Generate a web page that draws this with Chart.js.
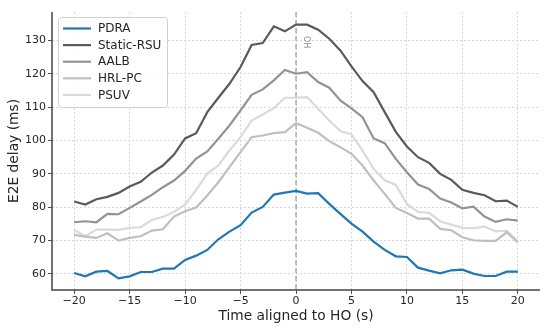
<!DOCTYPE html>
<html>
<head>
<meta charset="utf-8">
<script src="https://cdn.jsdelivr.net/npm/chart.js@4/dist/chart.umd.min.js"></script>
<style>
  html, body { margin: 0; padding: 0; background: #fff; }
  #wrap { width: 550px; height: 330px; }
</style>
</head>
<body>
<div id="wrap"><canvas id="myChart" width="550" height="330"></canvas></div>
<script>
// time aligned to handover (s)
const times = [-20,-19,-18,-17,-16,-15,-14,-13,-12,-11,-10,-9,-8,-7,-6,-5,-4,-3,-2,-1,0,1,2,3,4,5,6,7,8,9,10,11,12,13,14,15,16,17,18,19,20];

const pdra = [60.3,59.3,60.7,60.9,58.7,59.3,60.6,60.6,61.6,61.6,64.2,65.5,67.2,70.4,72.7,74.6,78.4,80.1,83.8,84.4,84.9,84.1,84.2,81.0,78.0,75.1,72.7,69.7,67.2,65.3,65.1,61.9,61.0,60.2,61.1,61.3,60.1,59.4,59.4,60.7,60.7];
const staticRsu = [81.7,80.8,82.4,83.1,84.3,86.2,87.6,90.4,92.5,95.8,100.6,102.2,108.5,112.8,117.0,122.0,128.6,129.2,134.2,132.7,134.7,134.7,133.2,130.5,127.0,122.2,117.8,114.5,108.5,102.6,98.2,95.0,93.3,90.0,88.2,85.2,84.3,83.6,81.8,82.0,80.1];
const aalb = [75.5,75.8,75.5,78.0,77.9,79.8,81.7,83.7,86.0,88.0,90.9,94.6,96.7,100.5,104.5,109.0,113.7,115.3,118.0,121.1,120.0,120.5,117.5,115.8,112.0,109.6,107.0,100.6,99.2,94.5,90.5,86.8,85.5,82.6,81.4,79.7,80.2,77.2,75.6,76.4,76.0];
const hrlPc = [71.7,71.2,70.8,72.2,70.0,70.8,71.3,73.0,73.4,77.2,78.8,79.9,83.5,87.5,92.0,96.5,101.0,101.5,102.2,102.5,105.2,103.8,102.3,99.8,98.0,96.0,92.5,88.0,84.0,79.8,78.3,76.6,76.6,73.5,73.1,71.0,70.1,69.9,69.9,72.5,69.5];
const psuv = [73.2,71.3,73.3,73.3,73.2,73.8,74.0,76.2,77.1,78.6,80.8,85.2,90.1,92.5,97.0,101.0,106.0,107.8,109.7,112.8,112.8,113.0,109.5,106.0,102.8,101.8,97.0,91.5,88.1,86.7,81.0,78.6,78.3,75.8,74.8,73.8,73.7,74.2,72.8,73.0,69.7];

const xTicks = [-20,-15,-10,-5,0,5,10,15,20];
const yTicks = [60,70,80,90,100,110,120,130];
const hoTime = 0;

const series = [
    { label: 'PDRA', values: pdra, color: '#1f77b4' },
    { label: 'Static-RSU', values: staticRsu, color: '#5a5a5a' },
    { label: 'AALB', values: aalb, color: '#939393' },
    { label: 'HRL-PC', values: hrlPc, color: '#bfbfbf' },
    { label: 'PSUV', values: psuv, color: '#dadada' },
];

const FONT = "'DejaVu Sans', sans-serif";

const data = {
    datasets: series.map(s => ({
        label: s.label,
        data: times.map((t, i) => ({ x: t, y: s.values[i] })),
        borderColor: s.color,
        backgroundColor: s.color,
        borderWidth: 2.2,
        pointRadius: 0,
        tension: 0,
    })),
};

// dashed HO marker + label
const hoLine = {
    id: 'hoLine',
    beforeDatasetsDraw(chart) {
        const { ctx, chartArea, scales } = chart;
        const x = scales.x.getPixelForValue(hoTime);
        ctx.save();
        ctx.strokeStyle = '#9a9a9a';
        ctx.lineWidth = 1.2;
        ctx.setLineDash([5, 3]);
        ctx.beginPath();
        ctx.moveTo(x, chartArea.top);
        ctx.lineTo(x, chartArea.bottom);
        ctx.stroke();
        ctx.setLineDash([]);
        ctx.translate(x + 13, chartArea.top + 30);
        ctx.rotate(-Math.PI / 2);
        ctx.fillStyle = '#888';
        ctx.font = '8px ' + FONT;
        ctx.textAlign = 'center';
        ctx.textBaseline = 'middle';
        ctx.fillText('HO', 0, 0);
        ctx.restore();
    }
};

// matplotlib-like legend inside the axes, upper left
const boxLegend = {
    id: 'boxLegend',
    afterDatasetsDraw(chart) {
        const { ctx, chartArea } = chart;
        const x0 = chartArea.left + 6, y0 = chartArea.top + 5;
        const w = 109, rowH = 16.6, h = 90;
        ctx.save();
        ctx.fillStyle = 'rgba(255,255,255,0.85)';
        ctx.strokeStyle = '#d0d0d0';
        ctx.lineWidth = 1;
        ctx.beginPath();
        ctx.roundRect(x0 + 0.5, y0 + 0.5, w, h, 3);
        ctx.fill();
        ctx.stroke();
        ctx.font = '12px ' + FONT;
        ctx.textBaseline = 'middle';
        chart.data.datasets.forEach((ds, i) => {
            const cy = y0 + 11.5 + i * rowH;
            ctx.strokeStyle = ds.borderColor;
            ctx.lineWidth = ds.borderWidth;
            ctx.beginPath();
            ctx.moveTo(x0 + 5, cy);
            ctx.lineTo(x0 + 33, cy);
            ctx.stroke();
            ctx.fillStyle = '#262626';
            ctx.fillText(ds.label, x0 + 40, cy + 0.5);
        });
        ctx.restore();
    }
};

// left / bottom spines drawn solid (border.dash is used for the dotted grid)
const spines = {
    id: 'spines',
    afterDatasetsDraw(chart) {
        const { ctx, chartArea } = chart;
        ctx.save();
        ctx.strokeStyle = '#444';
        ctx.lineWidth = 1.5;
        ctx.setLineDash([]);
        ctx.beginPath();
        ctx.moveTo(chartArea.left, chartArea.top);
        ctx.lineTo(chartArea.left, chartArea.bottom);
        ctx.lineTo(chartArea.right, chartArea.bottom);
        ctx.stroke();
        ctx.restore();
    }
};

const grid = {
    color: '#cfcfcf',
    lineWidth: 0.8,
    tickColor: '#555',
    tickLength: 4,
    tickBorderDash: [],
    tickWidth: 1,
};

const ctx = document.getElementById('myChart');
const myChart = new Chart(ctx, {
    type: 'line',
    data,
    options: {
        responsive: false,
        animation: false,
        layout: { padding: { top: 12, right: 10, left: 0, bottom: 0 } },
        plugins: {
            legend: { display: false },
            title: { display: false },
            tooltip: { enabled: false },
        },
        scales: {
            x: {
                type: 'linear',
                min: -22,
                max: 22,
                afterBuildTicks: s => { s.ticks = xTicks.map(v => ({ value: v })); },
                afterFit: s => { s.height = 40; },
                grid,
                border: { display: false, dash: [2, 2] },
                ticks: {
                    color: '#262626',
                    padding: 1,
                    maxRotation: 0,
                    font: { family: FONT, size: 11 },
                    callback: v => String(v).replace('-', '\u2212'),
                },
                title: {
                    display: true,
                    text: 'Time aligned to HO (s)',
                    color: '#262626',
                    font: { family: FONT, size: 13.8 },
                    padding: { top: 0, bottom: 5 },
                },
            },
            y: {
                min: 55.2,
                max: 138.5,
                afterBuildTicks: s => { s.ticks = yTicks.map(v => ({ value: v })); },
                afterFit: s => { s.width = 52; },
                grid,
                border: { display: false, dash: [2, 2] },
                ticks: {
                    color: '#262626',
                    padding: 2,
                    font: { family: FONT, size: 11 },
                },
                title: {
                    display: true,
                    text: 'E2E delay (ms)',
                    color: '#262626',
                    font: { family: FONT, size: 13.8 },
                    padding: { top: 6, bottom: 0 },
                },
            },
        },
    },
    plugins: [hoLine, spines, boxLegend],
});
</script>
</body>
</html>
